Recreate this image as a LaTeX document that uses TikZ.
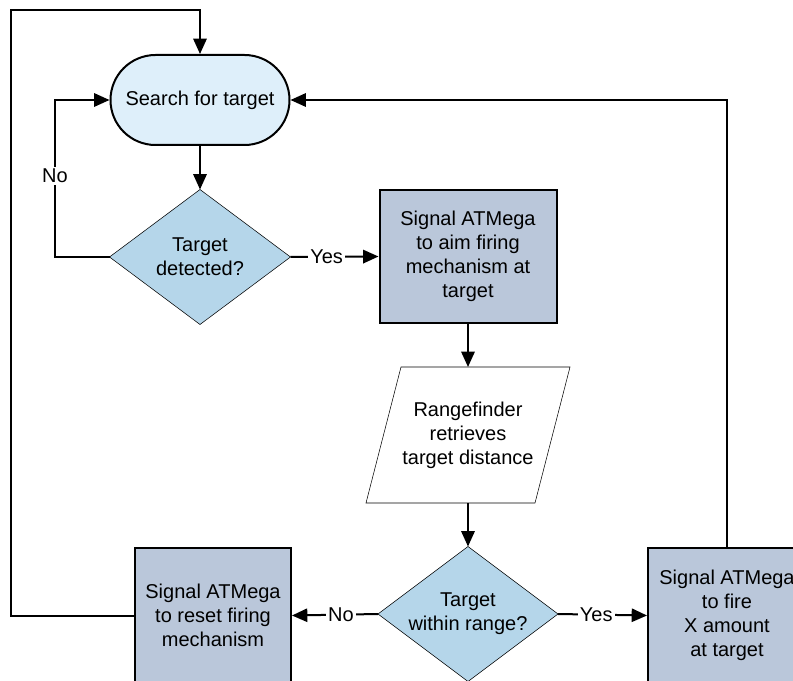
\documentclass[tikz,border=0pt]{standalone}
\usepackage{fontspec}
\setmainfont{Liberation Sans}
\usetikzlibrary{arrows.meta,backgrounds}

\definecolor{termfill}{HTML}{DEEFFA}
\definecolor{decfill}{HTML}{B5D6EA}
\definecolor{procfill}{HTML}{BAC7DA}

\begin{document}
\begin{tikzpicture}[
  x=0.75pt, y=-0.75pt,
  font=\fontsize{15}{18}\selectfont,
  line width=1.5pt,
  flow/.style={-{Triangle[length=11.5pt,width=10pt]}},
  terminal/.style={rectangle, rounded corners=33.75pt, draw, fill=termfill,
    minimum width=134.25pt, minimum height=67.5pt, inner sep=0pt, align=center},
  procbox/.style={rectangle, draw, fill=procfill, minimum height=99.75pt,
    inner sep=0pt, align=center},
  decbox/.style={rectangle, minimum height=99.75pt, inner sep=0pt, align=center},
  iobox/.style={rectangle, minimum width=151.5pt, minimum height=100.5pt,
    inner sep=0pt, align=center},
  lbl/.style={fill=white, inner sep=1.5pt, font=\fontsize{15}{18}\selectfont}
]
\useasboundingbox (0,0) rectangle (793,681);

% nodes
\node[terminal] (search) at (200,100) {Search for target};
\node[decbox, minimum width=134.25pt] (detect) at (200,257) {Target\\detected?};
\node[procbox, minimum width=132.75pt] (aim) at (468,256.5)
  {Signal ATMega\\to aim firing\\mechanism at\\target};
\node[iobox] (range) at (468,435) {Rangefinder\\retrieves\\target distance};
\node[decbox, minimum width=133.5pt] (within) at (468,614) {Target\\within range?};
\node[procbox, minimum width=117pt, minimum height=101.25pt] (reset) at (213,615.5)
  {Signal ATMega\\to reset firing\\mechanism};
\node[procbox, minimum width=118.5pt, minimum height=101.25pt] (fire) at (727,615.5)
  {Signal ATMega\\to fire\\X amount\\at target};

% decision diamonds and the input/output parallelogram behind their text
\begin{scope}[on background layer]
  \filldraw[fill=decfill] (detect.north) -- (detect.east) -- (detect.south)
    -- (detect.west) -- cycle;
  \filldraw[fill=decfill] (within.north) -- (within.east) -- (within.south)
    -- (within.west) -- cycle;
  \filldraw[fill=white] ([xshift=26.25pt]range.north west) -- (range.north east)
    -- ([xshift=-26.25pt]range.south east) -- (range.south west) -- cycle;
\end{scope}

% helper corners for the loop-back lines
\coordinate (outer) at (11,10);
\coordinate (inner) at (55,100);

% connectors
\draw[flow] (search) -- (detect.north);
\draw[flow] (detect.west) -| node[lbl, pos=0.758] {No} (inner) -- (search.west);
\draw[flow] (detect.east) -- node[lbl, pos=0.41] {Yes} (aim.west);
\draw[flow] (aim.south) -- (range.north);
\draw[flow] (range.south) -- (within.north);
\draw[flow] (within.west) -- node[lbl, pos=0.43] {No} (reset.east);
\draw[flow] (within.east) -- node[lbl, pos=0.43] {Yes} (fire.west);
\draw[flow] (fire.north) |- (search.east);
\draw[flow] (reset.west) -| (outer) -| (search.north);
\end{tikzpicture}
\end{document}
